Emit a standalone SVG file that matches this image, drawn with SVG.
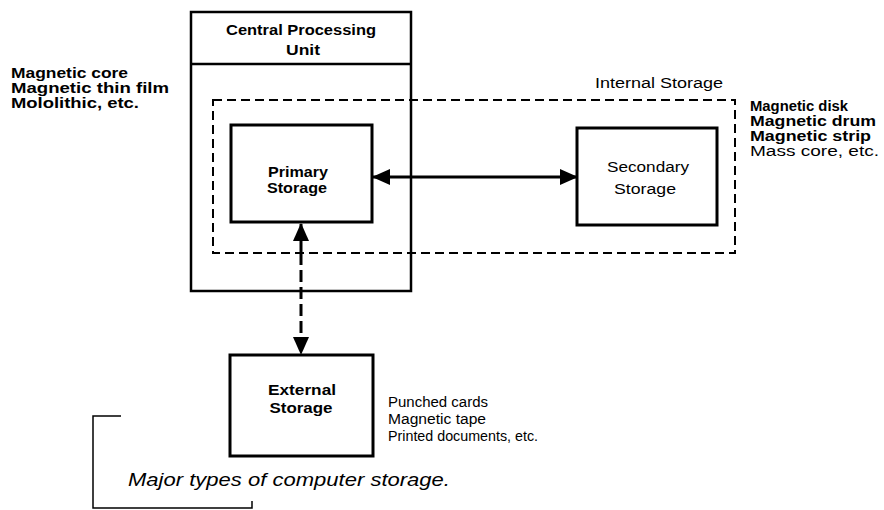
<svg xmlns="http://www.w3.org/2000/svg" width="884" height="510" viewBox="0 0 884 510">
<style>
.box{fill:none;stroke:#000;stroke-width:3}
.cpu{fill:none;stroke:#000;stroke-width:2.5}
.dash{fill:none;stroke:#000;stroke-width:2;stroke-dasharray:9 5}
.lbl{font-family:"Liberation Sans",Arial,sans-serif;font-weight:bold;font-size:14px;fill:#000}
.reg{font-family:"Liberation Sans",Arial,sans-serif;font-size:14px;fill:#000}
.cap{font-family:"Liberation Sans",Arial,sans-serif;font-style:italic;font-size:19px;fill:#000}
.conn{stroke:#000;stroke-width:3;fill:none}
.thin{stroke:#000;stroke-width:1.5;fill:none}
</style>
<defs>
<marker id="ah" viewBox="0 0 18 16" refX="17" refY="8" markerWidth="18" markerHeight="16" markerUnits="userSpaceOnUse" orient="auto-start-reverse">
<path d="M0,0 L18,8 L0,16 z" fill="#000"/>
</marker>
</defs>

<g id="internal-storage">
<rect class="dash" x="213" y="100" width="522" height="153"/>
<text class="reg" x="595" y="88" textLength="128" lengthAdjust="spacingAndGlyphs">Internal Storage</text>
</g>

<g id="cpu">
<rect class="cpu" x="191" y="12" width="220" height="279"/>
<line class="cpu" x1="191" y1="64" x2="411" y2="64"/>
<text class="lbl" x="301" y="35" text-anchor="middle" font-size="15" textLength="150" lengthAdjust="spacingAndGlyphs">Central Processing</text>
<text class="lbl" x="303" y="55" text-anchor="middle" font-size="15" textLength="34" lengthAdjust="spacingAndGlyphs">Unit</text>
</g>

<g id="primary">
<rect class="box" x="231" y="125" width="141" height="97"/>
<text class="lbl" x="298" y="177" text-anchor="middle" font-size="13" textLength="60" lengthAdjust="spacingAndGlyphs">Primary</text>
<text class="lbl" x="297" y="193" text-anchor="middle" font-size="13" textLength="60" lengthAdjust="spacingAndGlyphs">Storage</text>
</g>

<g id="secondary">
<rect class="box" x="577" y="128" width="140" height="97"/>
<text class="reg" x="648" y="172" text-anchor="middle" font-size="14" textLength="82" lengthAdjust="spacingAndGlyphs">Secondary</text>
<text class="reg" x="645" y="194" text-anchor="middle" font-size="14" textLength="62" lengthAdjust="spacingAndGlyphs">Storage</text>
</g>

<g id="external">
<rect class="box" x="230" y="355" width="143" height="101"/>
<text class="lbl" x="302" y="395" text-anchor="middle" font-size="13" textLength="68" lengthAdjust="spacingAndGlyphs">External</text>
<text class="lbl" x="301" y="413" text-anchor="middle" font-size="13" textLength="63" lengthAdjust="spacingAndGlyphs">Storage</text>
</g>

<g id="primary-notes">
<text class="lbl" x="11" y="78" font-size="12" textLength="117" lengthAdjust="spacingAndGlyphs">Magnetic core</text>
<text class="lbl" x="11" y="93" font-size="12" textLength="158" lengthAdjust="spacingAndGlyphs">Magnetic thin film</text>
<text class="lbl" x="11" y="108" font-size="12" textLength="128" lengthAdjust="spacingAndGlyphs">Mololithic, etc.</text>
</g>

<g id="secondary-notes">
<text class="lbl" x="750" y="111" font-size="13" textLength="98" lengthAdjust="spacingAndGlyphs">Magnetic disk</text>
<text class="lbl" x="750" y="126" font-size="13" textLength="126" lengthAdjust="spacingAndGlyphs">Magnetic drum</text>
<text class="lbl" x="750" y="141" font-size="13" textLength="121" lengthAdjust="spacingAndGlyphs">Magnetic strip</text>
<text class="reg" x="750" y="156" font-size="13" textLength="129" lengthAdjust="spacingAndGlyphs">Mass core, etc.</text>
</g>

<g id="external-notes">
<text class="reg" x="388" y="407" font-size="13" textLength="100" lengthAdjust="spacingAndGlyphs">Punched cards</text>
<text class="reg" x="388" y="424" font-size="13" textLength="98" lengthAdjust="spacingAndGlyphs">Magnetic tape</text>
<text class="reg" x="388" y="441" font-size="13" textLength="150" lengthAdjust="spacingAndGlyphs">Printed documents, etc.</text>
</g>

<g id="connectors">
<line class="conn" x1="373" y1="177" x2="577" y2="177" marker-start="url(#ah)" marker-end="url(#ah)"/>
<line class="conn" x1="301" y1="253" x2="301" y2="224" marker-end="url(#ah)"/>
<line class="conn" x1="301" y1="253" x2="301" y2="354" stroke-dasharray="12 5" marker-end="url(#ah)"/>
</g>

<g id="caption">
<path class="thin" d="M121,416 H93 V508 H252 V501"/>
<text class="cap" x="128" y="486" textLength="322" lengthAdjust="spacingAndGlyphs">Major types of computer storage.</text>
</g>
</svg>
